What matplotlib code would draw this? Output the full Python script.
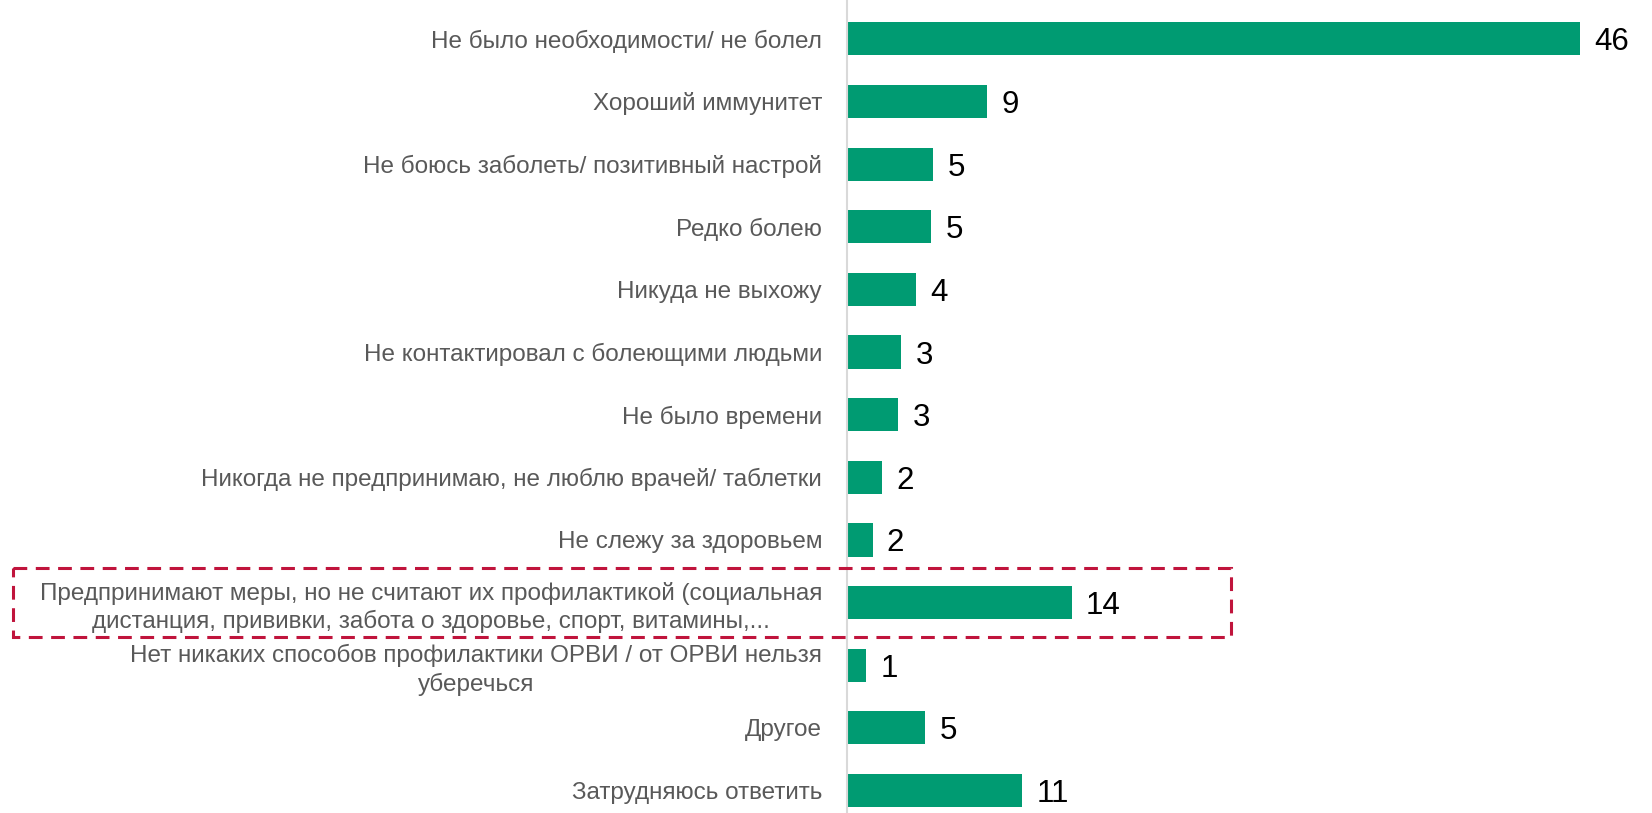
import matplotlib.pyplot as plt
import matplotlib.transforms as mtransforms
from matplotlib.patches import Rectangle

# причины, по которым не предпринимали профилактику ОРВИ, %
categories = [
    "Не было необходимости/ не болел",
    "Хороший иммунитет",
    "Не боюсь заболеть/ позитивный настрой",
    "Редко болею",
    "Никуда не выхожу",
    "Не контактировал с болеющими людьми",
    "Не было времени",
    "Никогда не предпринимаю, не люблю врачей/ таблетки",
    "Не слежу за здоровьем",
    "Предпринимают меры, но не считают их профилактикой (социальная\nдистанция, прививки, забота о здоровье, спорт, витамины,...",
    "Нет никаких способов профилактики ОРВИ / от ОРВИ нельзя\nуберечься",
    "Другое",
    "Затрудняюсь ответить",
]
values = [46.0, 8.8, 5.4, 5.3, 4.3, 3.4, 3.2, 2.2, 1.6, 14.1, 1.2, 4.9, 11.0]
highlight = 9

plt.rcParams['font.family'] = ['Liberation Sans', 'DejaVu Sans']

fig = plt.figure(figsize=(16.52, 8.13), dpi=100)
ax = fig.add_axes([847 / 1652, 0, 1 - 847 / 1652, 1])

pos = list(range(len(values)))
ax.barh(pos, values, height=0.53, color='#009B72')
ax.set_ylim(12.36, -0.62)
ax.set_xlim(0, 50.5)

for p, v in zip(pos, values):
    ax.text(v + 0.9, p, str(int(round(v))), va='center_baseline', ha='left',
            fontsize=22.5, color='black')

ax.set_yticks(pos)
ax.set_yticklabels(categories, fontsize=17.5, color='#595959',
                   multialignment='center', linespacing=1.3)
ax.tick_params(axis='y', length=0, pad=18)
ax.set_xticks([])

# двухстрочные подписи чуть ниже, по центру строки
shift = mtransforms.ScaledTranslation(0, -0.05, fig.dpi_scale_trans)
for lbl in ax.get_yticklabels():
    if '\n' in lbl.get_text():
        lbl.set_va('center')
        lbl.set_transform(lbl.get_transform() + shift)

for s in ['top', 'right', 'bottom']:
    ax.spines[s].set_visible(False)
ax.spines['left'].set_color('#D9D9D9')
ax.spines['left'].set_linewidth(1.5)

# рамка вокруг выделенной строки
trans = mtransforms.blended_transform_factory(fig.transFigure, ax.transData)
box = Rectangle((13 / 1652, highlight - 0.55), (1231 - 13) / 1652, 1.1,
                transform=trans, fill=False, edgecolor='#C0143C',
                linestyle=(0, (4.5, 2.8)), linewidth=2.2, clip_on=False)
fig.add_artist(box)

plt.savefig('out.png', dpi=100)
